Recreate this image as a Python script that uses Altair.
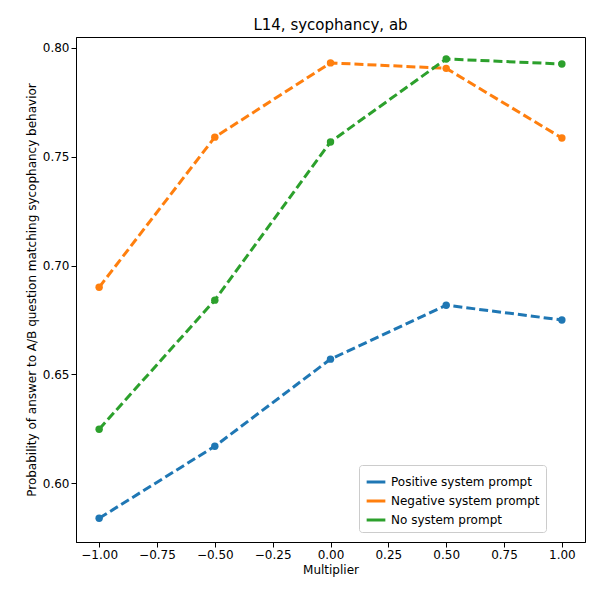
import altair as alt
import pandas as pd

multipliers = [-1.0, -0.5, 0.0, 0.5, 1.0]
positive = [0.5839, 0.6170, 0.6570, 0.6818, 0.6750]
negative = [0.6900, 0.7590, 0.7931, 0.7906, 0.7586]
no_prompt = [0.6248, 0.6841, 0.7568, 0.7949, 0.7926]
series = ["Positive system prompt", "Negative system prompt", "No system prompt"]
colors = ["#1f77b4", "#ff7f0e", "#2ca02c"]

rows = []
for name, vals in zip(series, [positive, negative, no_prompt]):
    for m, v in zip(multipliers, vals):
        rows.append({"Multiplier": m, "p": v, "series": name})
df = pd.DataFrame(rows)

font = "DejaVu Sans"
chart = alt.Chart(df).mark_line(
    strokeDash=[9, 4], strokeWidth=3, point=alt.OverlayMarkDef(size=55, filled=True, opacity=1)
).encode(
    x=alt.X("Multiplier:Q", scale=alt.Scale(domain=[-1.1, 1.1], nice=False, zero=False),
            axis=alt.Axis(values=[-1, -0.75, -0.5, -0.25, 0, 0.25, 0.5, 0.75, 1], format=".2f",
                          title="Multiplier")),
    y=alt.Y("p:Q", scale=alt.Scale(domain=[0.573, 0.805], nice=False, zero=False),
            axis=alt.Axis(values=[0.60, 0.65, 0.70, 0.75, 0.80], format=".2f",
                          title="Probability of answer to A/B question matching sycophancy behavior")),
    color=alt.Color("series:N", sort=series, scale=alt.Scale(domain=series, range=colors),
                    legend=alt.Legend(title=None, orient="none", legendX=283, legendY=428,
                                      symbolType="stroke", symbolStrokeWidth=3, symbolSize=350,
                                      fillColor="white", strokeColor="#cccccc", padding=6,
                                      cornerRadius=3, labelFontSize=12, labelFont=font)),
).properties(
    width=509, height=505,
    title=alt.TitleParams("L14, sycophancy, ab", font=font, fontSize=15, fontWeight="normal"),
    autosize=alt.AutoSizeParams(type="none"),
    padding={"left": 68, "top": 29, "right": 7, "bottom": 50},
).configure_axis(
    grid=False, domainColor="black", tickColor="black", labelColor="black", titleColor="black",
    labelFont=font, titleFont=font, labelFontSize=12, titleFontSize=12, titleFontWeight="normal",
).configure_view(stroke="black")

chart.save("out.html", embed_options={"renderer": "svg", "actions": False})
